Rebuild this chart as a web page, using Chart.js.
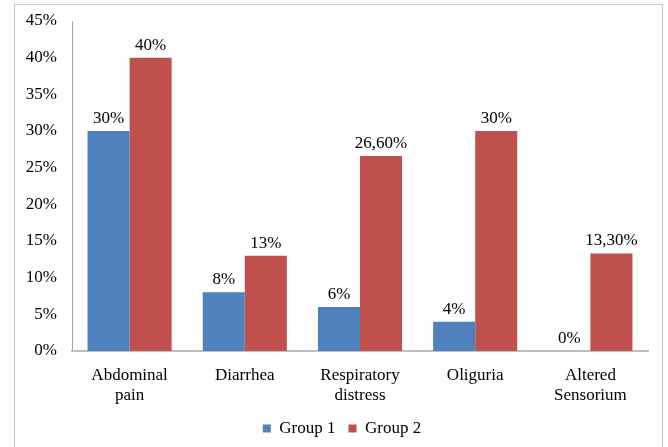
<!DOCTYPE html>
<html>
<head>
<meta charset="utf-8">
<script src="https://cdn.jsdelivr.net/npm/chart.js@4"></script>
<style>
    html, body { margin: 0; padding: 0; background: #fff; }
    #wrap { position: relative; width: 668px; height: 447px; overflow: hidden; }
    #frame { position: absolute; left: 14px; top: 4px; width: 647px; height: 460px; border: 1px solid #c8c8c8; }
    canvas { position: absolute; left: 0; top: 0; }
</style>
</head>
<body>
<div id="wrap">
    <div id="frame"></div>
    <canvas id="symptomChart" width="668" height="447"></canvas>
</div>
<script>
const categories = [['Abdominal', 'pain'], 'Diarrhea', ['Respiratory', 'distress'], 'Oliguria', ['Altered', 'Sensorium']];
const group1 = [30, 8, 6, 4, 0];
const group2 = [40, 13, 26.6, 30, 13.3];
const group1Labels = ['30%', '8%', '6%', '4%', '0%'];
const group2Labels = ['40%', '13%', '26,60%', '30%', '13,30%'];
const yTicks = [0, 5, 10, 15, 20, 25, 30, 35, 40, 45];

const serif = '"Liberation Serif", "Times New Roman", serif';

const valueLabels = {
    id: 'valueLabels',
    afterDatasetsDraw(chart) {
        const ctx = chart.ctx;
        ctx.save();
        ctx.font = '17px ' + serif;
        ctx.fillStyle = '#000';
        ctx.textAlign = 'center';
        ctx.textBaseline = 'bottom';
        chart.data.datasets.forEach((ds, i) => {
            const meta = chart.getDatasetMeta(i);
            meta.data.forEach((bar, j) => {
                ctx.fillText(ds.valueText[j], bar.x, bar.y - 4);
            });
        });
        ctx.restore();
    }
};

// nudge the legend a bit to the right, like the original
const legendShift = {
    id: 'legendShift',
    afterLayout(chart) {
        if (chart.legend) {
            chart.legend.left += 18;
            chart.legend.right += 18;
        }
    }
};

const canvas = document.getElementById('symptomChart');
new Chart(canvas.getContext('2d'), {
    type: 'bar',
    data: {
        labels: categories,
        datasets: [{
            label: 'Group 1',
            data: group1,
            valueText: group1Labels,
            backgroundColor: '#4f81bd',
            borderWidth: 0
        }, {
            label: 'Group 2',
            data: group2,
            valueText: group2Labels,
            backgroundColor: '#c0504d',
            borderWidth: 0
        }]
    },
    options: {
        responsive: false,
        animation: false,
        devicePixelRatio: 1,
        layout: { padding: { top: 21, right: 20, bottom: 0, left: 0 } },
        datasets: {
            bar: { categoryPercentage: 0.73, barPercentage: 1 }
        },
        plugins: {
            legend: {
                position: 'bottom',
                labels: {
                    boxWidth: 8,
                    boxHeight: 8,
                    color: '#000',
                    padding: 13,
                    font: { family: serif, size: 17 }
                }
            },
            tooltip: { enabled: false }
        },
        scales: {
            y: {
                min: 0,
                max: 45,
                afterBuildTicks: axis => { axis.ticks = yTicks.map(v => ({ value: v })); },
                afterFit: axis => {
                    axis.width = 72;
                    axis.paddingTop = 0;
                    axis.paddingBottom = 0;
                },
                ticks: {
                    color: '#000',
                    padding: 7,
                    font: { family: serif, size: 17 },
                    callback: v => v + '%'
                },
                grid: { display: false },
                border: { display: true, color: '#a6a6a6', width: 1 }
            },
            x: {
                afterFit: axis => { axis.height = 56; },
                ticks: {
                    color: '#000',
                    padding: 6,
                    maxRotation: 0,
                    font: { family: serif, size: 17, lineHeight: 1.2 }
                },
                grid: { display: false },
                border: { display: true, color: '#bfbfbf', width: 2 }
            }
        }
    },
    plugins: [valueLabels, legendShift]
});
</script>
</body>
</html>
